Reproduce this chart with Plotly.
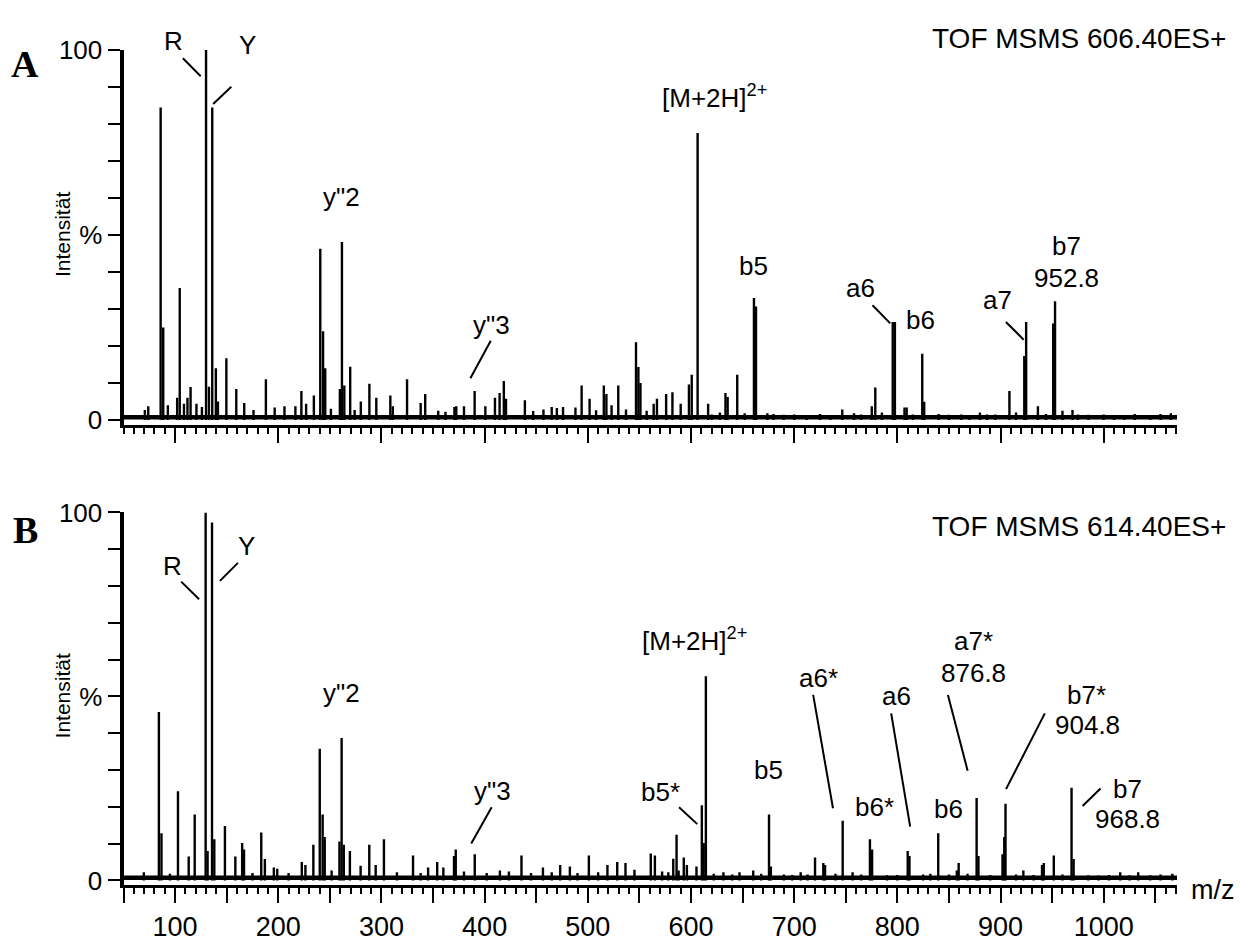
import plotly.graph_objects as go

# ---------------- spectrum data (m/z, relative intensity %) ----------------
# Panel A: TOF MSMS 606.40ES+
a_mz = [70.7, 74.0, 86.0, 88.5, 93.0, 102.0, 104.5, 108.6, 112.0, 115.0, 120.7, 126.0,
        130.0, 132.8, 136.0, 139.5, 141.5, 149.7, 159.3, 167.0, 176.0, 188.0, 196.5,
        206.0, 216.6, 222.4, 227.0, 234.5, 240.7, 243.4, 245.5, 251.0, 259.7, 261.7,
        264.0, 269.7, 274.0, 280.0, 288.3, 295.0, 308.6, 311.0, 324.8, 338.0, 342.4,
        355.0, 362.0, 370.7, 372.5, 380.0, 390.3, 400.7, 410.0, 414.5, 418.6, 420.7,
        439.0, 447.0, 457.0, 465.0, 470.0, 476.0, 488.0, 494.0, 501.7, 508.0, 515.5,
        518.0, 523.0, 529.5, 537.0, 546.7, 549.0, 551.0, 557.0, 563.8, 567.0, 575.9,
        582.0, 590.0, 598.0, 600.7, 606.4, 616.6, 620.0, 628.0, 633.4, 635.5, 644.8,
        652.0, 661.0, 663.0, 674.0, 680.0, 690.0, 700.0, 712.0, 725.0, 735.0, 746.6,
        758.0, 765.0, 775.2, 778.6, 785.0, 795.5, 797.6, 806.9, 809.0, 815.0, 824.1,
        826.0, 840.0, 850.0, 862.0, 870.0, 880.0, 887.0, 895.0, 908.6, 915.0, 923.0,
        924.8, 936.2, 944.0, 951.0, 952.8, 960.0, 969.7, 975.0, 985.0, 1000.0, 1010.0,
        1020.0, 1030.0, 1045.0, 1055.0, 1065.0]
a_int = [2.7, 3.7, 84.5, 25.0, 4.0, 6.0, 35.7, 4.4, 6.0, 8.9, 4.4, 3.5,
         100.0, 9.0, 84.5, 14.0, 5.0, 16.7, 8.4, 4.6, 2.7, 11.0, 3.4,
         3.7, 3.7, 7.8, 4.4, 6.6, 46.3, 24.0, 14.0, 3.0, 8.4, 48.1,
         9.3, 14.4, 2.7, 5.0, 9.8, 6.0, 6.6, 3.7, 11.0, 4.6, 7.0,
         2.5, 2.2, 3.5, 3.7, 3.7, 7.8, 3.7, 6.0, 7.3, 10.5, 5.7,
         5.3, 2.4, 2.8, 3.5, 3.2, 3.5, 3.4, 9.3, 5.7, 2.6, 9.3,
         7.0, 4.0, 9.3, 2.8, 21.0, 14.3, 10.0, 2.5, 4.4, 5.7, 7.0,
         7.5, 4.4, 9.6, 12.2, 77.6, 4.4, 1.5, 2.0, 7.3, 6.2, 12.2,
         1.8, 33.0, 30.7, 1.8, 1.6, 1.4, 1.5, 1.3, 1.6, 1.2, 2.8,
         1.8, 1.5, 3.7, 8.8, 2.0, 26.5, 26.5, 3.4, 3.4, 1.5, 17.9,
         4.9, 1.6, 1.4, 1.5, 1.3, 2.0, 1.5, 1.5, 7.8, 2.0, 17.3,
         26.5, 3.7, 1.6, 26.1, 32.1, 2.5, 2.7, 1.5, 1.4, 1.5, 1.3,
         1.2, 1.6, 1.3, 1.6, 1.8]

# Panel B: TOF MSMS 614.40ES+
b_mz = [69.7, 84.3, 86.8, 95.0, 102.8, 113.2, 119.0, 129.6, 131.5, 135.8, 138.0, 148.3,
        158.4, 165.0, 166.8, 175.0, 183.5, 187.0, 195.7, 199.0, 210.0, 222.8, 226.3,
        234.0, 240.2, 243.0, 245.0, 251.7, 259.3, 261.4, 263.5, 269.4, 279.8, 288.2,
        294.4, 302.4, 315.0, 330.6, 338.0, 345.2, 354.0, 360.0, 370.3, 372.0, 380.0,
        390.4, 402.0, 414.8, 423.5, 435.7, 445.0, 456.5, 465.0, 473.2, 482.6, 490.0,
        501.0, 510.0, 519.0, 528.5, 536.5, 545.2, 561.0, 565.0, 572.0, 578.0, 582.8,
        586.0, 588.0, 593.0, 596.0, 605.3, 610.5, 612.3, 614.4, 622.0, 631.4, 640.0,
        647.0, 660.3, 668.0, 675.6, 677.4, 690.0, 698.0, 706.3, 713.0, 720.2, 728.2,
        729.9, 740.0, 747.0, 756.6, 765.0, 773.4, 775.5, 790.0, 800.0, 810.0, 811.7,
        825.0, 832.0, 839.6, 850.0, 857.6, 859.4, 868.0, 876.8, 878.6, 890.0, 901.9,
        903.6, 904.8, 915.0, 922.1, 932.0, 940.2, 941.9, 951.6, 960.0, 968.8, 970.8,
        985.0, 995.0, 1005.0, 1016.0, 1025.0, 1033.4, 1045.0, 1055.0, 1066.5]
b_int = [2.2, 45.8, 12.8, 1.8, 24.2, 6.5, 17.9, 100.0, 8.0, 97.3, 11.2, 14.8,
         6.5, 10.2, 8.4, 2.0, 13.0, 5.8, 3.5, 3.2, 2.0, 5.0, 4.2,
         9.7, 35.8, 17.9, 11.8, 2.7, 10.6, 38.7, 9.7, 8.0, 4.0, 9.7,
         4.2, 11.2, 2.2, 6.8, 2.0, 3.5, 5.0, 3.5, 6.6, 8.4, 2.4,
         7.1, 2.0, 2.7, 2.4, 6.8, 2.0, 3.5, 2.2, 4.2, 3.8, 2.0,
         6.8, 2.2, 4.2, 5.0, 4.7, 2.9, 7.3, 6.8, 2.4, 2.2, 5.9,
         12.4, 2.7, 6.2, 4.2, 3.8, 20.4, 10.2, 55.5, 1.8, 2.2, 1.6,
         2.2, 2.7, 1.8, 17.9, 3.8, 1.6, 1.5, 2.2, 1.6, 6.2, 4.7,
         4.2, 1.8, 16.2, 2.2, 1.6, 11.2, 8.4, 1.4, 1.5, 8.0, 6.6,
         1.6, 1.8, 12.8, 1.6, 2.7, 4.7, 1.8, 22.4, 6.6, 1.5, 7.1,
         11.8, 20.8, 1.6, 2.7, 1.5, 4.2, 4.7, 6.8, 1.6, 25.2, 5.8,
         1.4, 1.3, 1.5, 2.2, 1.4, 2.2, 1.4, 1.6, 1.8]

# ---------------- axis ticks ----------------
x_range = [50, 1071]
x_major = list(range(50, 1051, 50))
x_major_text = [str(v) if v % 100 == 0 else "" for v in x_major]
y_ticks = [0, 50, 100]
y_ticktext = ["0", "%", "100"]
noise_floor = 0.7

# ---------------- peak labels: (text, m/z, %) ----------------
a_labels = [
    ("y\"2", 261.5, 60.2), ("y\"3", 406.9, 25.7), ("[M+2H]<sup>2+</sup>", 623.0, 87.5),
    ("b5", 660.3, 41.6), ("a6", 763.8, 35.8), ("b6", 822.4, 27.0),
    ("a7", 896.6, 32.3), ("b7", 963.8, 46.9), ("952.8", 963.8, 38.5),
]
# labels sitting above the 100 % line of panel A: (text, m/z, pixel row)
a_top_labels = [("R", 98.0, 27), ("Y", 169.7, 31)]
a_leaders = [
    (107.6, 97.8, 124.8, 92.9), (136.9, 85.4, 154.5, 90.1),
    (405.9, 21.4, 386.2, 11.3), (775.9, 31.0, 793.1, 26.1),
    (905.2, 26.5, 922.4, 21.7),
]
b_labels = [
    ("R", 97.6, 85.5), ("Y", 169.6, 90.9), ("y\"2", 261.0, 50.9),
    ("y\"3", 407.8, 24.3), ("[M+2H]<sup>2+</sup>", 603.0, 65.6),
    ("b5*", 570.3, 24.1), ("b5", 674.9, 30.1), ("a6*", 723.6, 54.9),
    ("b6*", 777.6, 19.9), ("a6", 799.2, 50.0), ("b6", 849.6, 19.5),
    ("a7*", 873.3, 65.0), ("876.8", 873.3, 56.4),
    ("b7*", 983.0, 50.4), ("904.8", 984.5, 42.2),
    ("b7", 1023.0, 24.8), ("968.8", 1023.0, 16.8),
]
b_leaders = [
    (105.9, 81.2, 123.3, 76.4), (143.5, 81.4, 160.9, 86.3),
    (406.8, 19.9, 387.0, 10.0), (588.4, 19.9, 606.1, 15.3),
    (718.4, 50.4, 737.6, 19.6), (794.0, 45.4, 812.4, 14.6),
    (849.0, 50.4, 868.1, 29.8), (942.9, 45.4, 905.3, 24.8),
    (996.9, 25.0, 979.5, 20.2),
]

W, H = 1241, 942
FONT = "Liberation Sans, Arial, sans-serif"
TXT = 26


def sticks(mz, inten):
    xs, ys = [], []
    for m, h in zip(mz, inten):
        xs += [m, m, None]
        ys += [0, h, None]
    return xs, ys


fig = go.Figure()
for mz, inten, xa, ya in [(a_mz, a_int, "x", "y"), (b_mz, b_int, "x2", "y2")]:
    xs, ys = sticks(mz, inten)
    # dense noise floor of the spectrum
    fig.add_trace(go.Scatter(x=x_range, y=[noise_floor, noise_floor], mode="lines",
                             line=dict(color="black", width=4.5), xaxis=xa, yaxis=ya,
                             hoverinfo="skip", showlegend=False))
    fig.add_trace(go.Scatter(x=xs, y=ys, mode="lines", line=dict(color="black", width=2.4),
                             xaxis=xa, yaxis=ya, showlegend=False))


def px_dom(top_px, bottom_px):
    return [1 - bottom_px / H, 1 - top_px / H]


x_dom = [123.5 / W, 1177 / W]
y_lo = -1.3
ya_dom = px_dom(36, 416 + 1.3 * 3.8)
yb_dom = px_dom(511, 889 + 1.3 * 3.78)

xaxis_common = dict(
    domain=x_dom, range=x_range, showline=True, linewidth=3, linecolor="black",
    ticks="outside", ticklen=15, tickwidth=2, tickcolor="black",
    tickmode="array", tickvals=x_major, ticktext=x_major_text,
    minor=dict(ticks="outside", ticklen=6, tickwidth=2, tickcolor="black",
               tickmode="linear", tick0=50, dtick=10, showgrid=False),
    showgrid=False, zeroline=False, tickfont=dict(size=27, family=FONT, color="black"),
    fixedrange=True,
)
yaxis_common = dict(
    range=[y_lo, 100], showline=True, linewidth=4, linecolor="black",
    ticks="outside", ticklen=12, tickwidth=2, tickcolor="black",
    tickmode="array", tickvals=y_ticks, ticktext=y_ticktext,
    minor=dict(ticks="outside", ticklen=12, tickwidth=2, tickcolor="black",
               tickmode="linear", tick0=0, dtick=10, showgrid=False),
    showgrid=False, zeroline=False, tickfont=dict(size=TXT, family=FONT, color="black"),
    fixedrange=True,
)

fig.update_layout(
    width=W, height=H, margin=dict(l=0, r=0, t=0, b=0),
    paper_bgcolor="white", plot_bgcolor="white",
    font=dict(family=FONT, color="black", size=TXT),
    xaxis=dict(xaxis_common, anchor="y", showticklabels=False),
    yaxis=dict(yaxis_common, domain=ya_dom, anchor="x"),
    xaxis2=dict(xaxis_common, anchor="y2", showticklabels=True),
    yaxis2=dict(yaxis_common, domain=yb_dom, anchor="x2"),
)

annotations = []
shapes = []
for labels, leaders, xr, yr in [(a_labels, a_leaders, "x", "y"), (b_labels, b_leaders, "x2", "y2")]:
    for text, xv, yv in labels:
        annotations.append(dict(text=text, x=xv, y=yv, xref=xr, yref=yr, showarrow=False,
                                xanchor="center", yanchor="middle",
                                font=dict(size=TXT, family=FONT, color="black")))
    for x0, y0, x1, y1 in leaders:
        shapes.append(dict(type="line", x0=x0, y0=y0, x1=x1, y1=y1, xref=xr, yref=yr,
                           line=dict(color="black", width=2)))
for text, xv, row in a_top_labels:
    annotations.append(dict(text=text, x=xv, y=1 - row / H, xref="x", yref="paper",
                            showarrow=False, xanchor="center", yanchor="middle",
                            font=dict(size=TXT, family=FONT, color="black")))

# spectrum headers, panel letters, axis captions
for title, ypx in [("TOF MSMS 606.40ES+", 24), ("TOF MSMS 614.40ES+", 525)]:
    annotations.append(dict(text=title, x=1228 / W, y=1 - ypx / H, xref="paper", yref="paper",
                            xanchor="right", yanchor="middle", showarrow=False,
                            font=dict(size=28, family=FONT, color="black")))
for letter, ypx in [("A", 50), ("B", 529)]:
    annotations.append(dict(text=letter, x=25 / W, y=1 - ypx / H, xref="paper", yref="paper",
                            xanchor="center", yanchor="middle", showarrow=False,
                            font=dict(size=38, family="Liberation Serif, Times New Roman, serif",
                                      color="black", weight="bold")))
for yr in ["y", "y2"]:
    annotations.append(dict(text="Intensität", x=62 / W, y=50, xref="paper", yref=yr,
                            xanchor="center", yanchor="middle", textangle=-90, showarrow=False,
                            font=dict(size=21, family=FONT, color="black")))
annotations.append(dict(text="m/z", x=1213 / W, y=1 - 899 / H, xref="paper", yref="paper",
                        xanchor="center", yanchor="middle", showarrow=False,
                        font=dict(size=27, family=FONT, color="black")))

fig.update_layout(annotations=annotations, shapes=shapes)
fig.write_html("out.html")
